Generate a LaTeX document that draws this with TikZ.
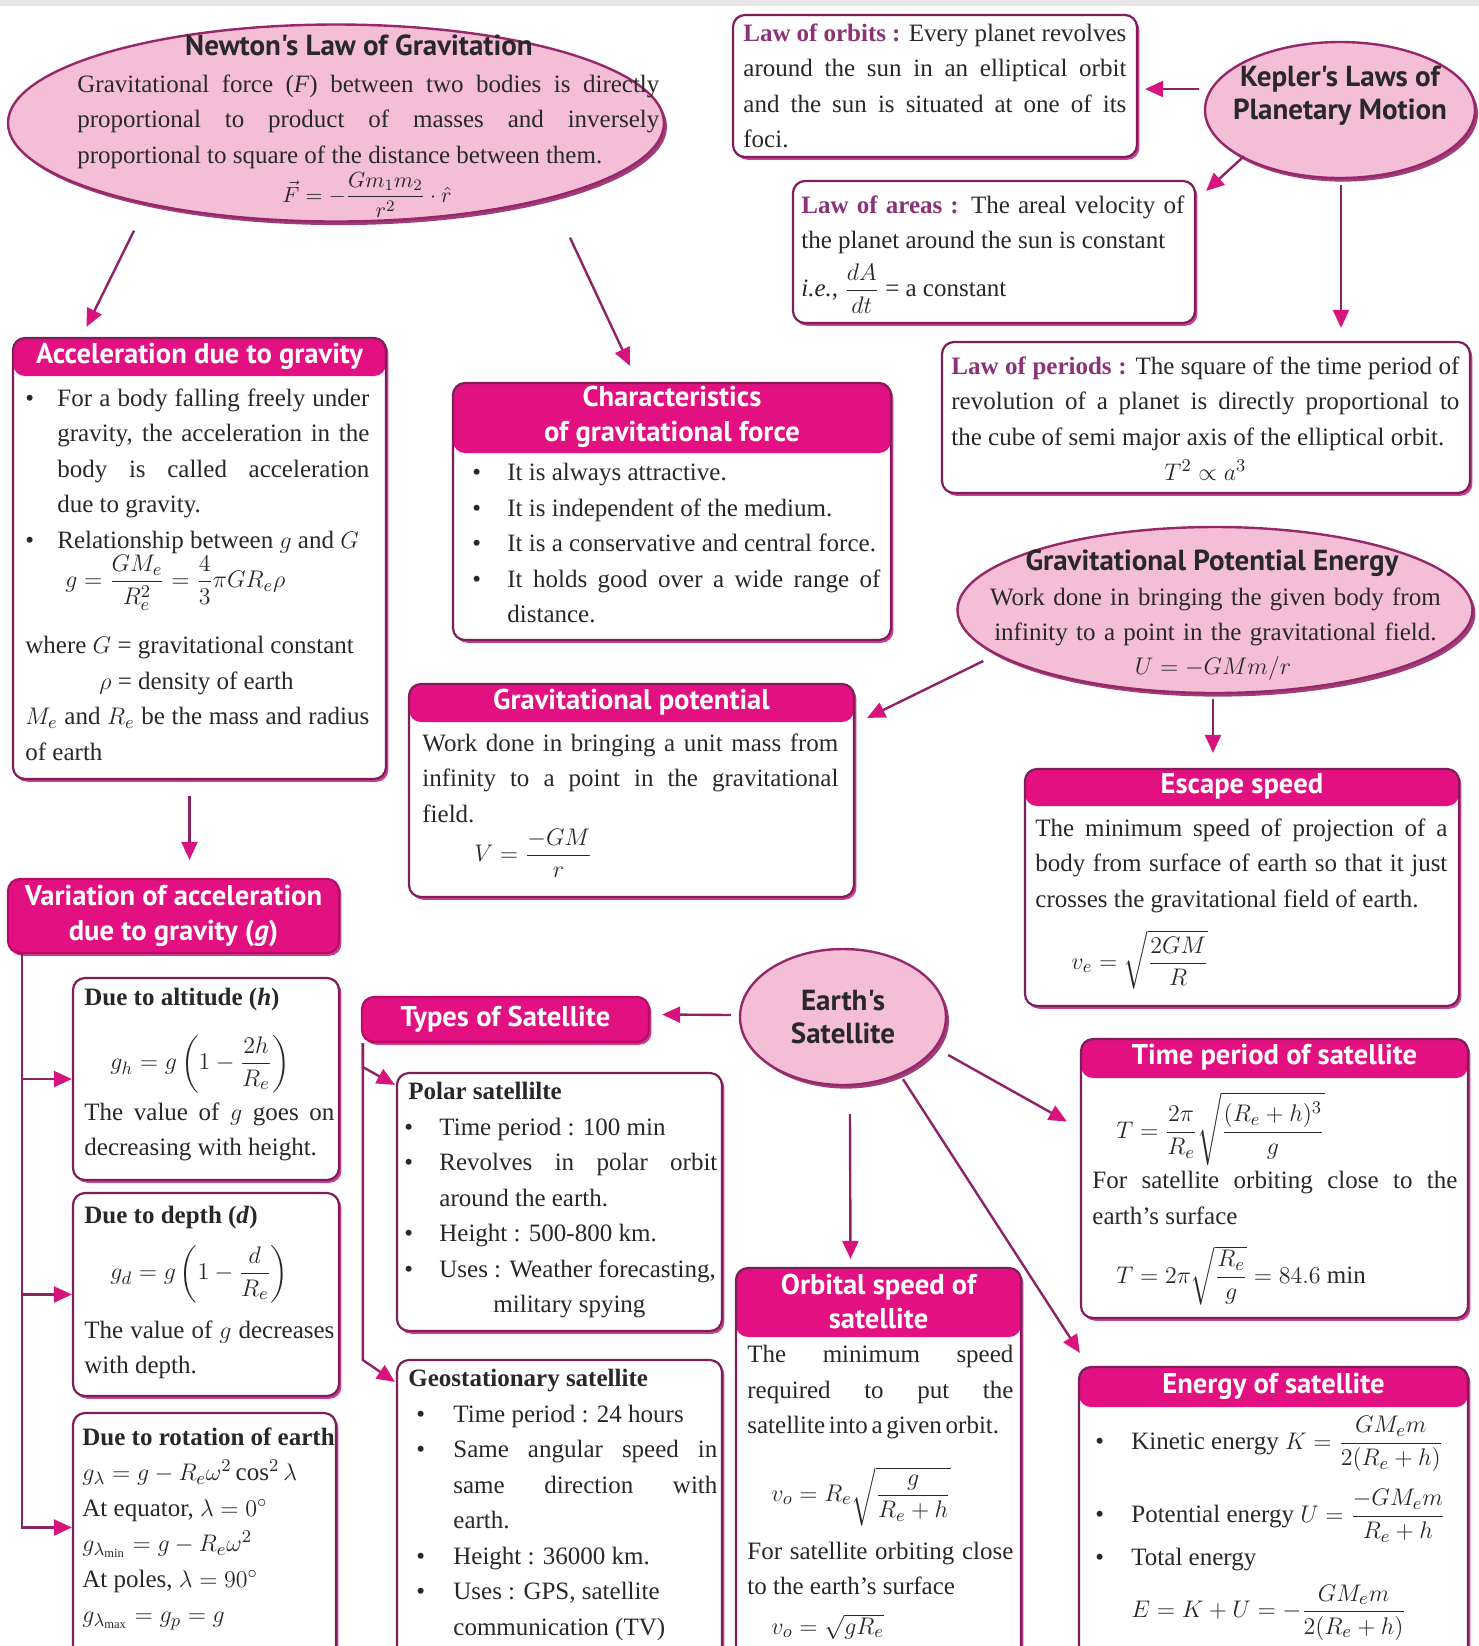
\documentclass[tikz,border=0pt]{standalone}
\usepackage{amsmath}
\usepackage{fontspec}
\setmainfont{Liberation Serif}
\newfontfamily\headsans{PT Sans}
\usetikzlibrary{arrows.meta, positioning, calc, fit, shapes.geometric, shadows}

\definecolor{headfill}{RGB}{226,16,128}
\definecolor{ovalfill}{RGB}{244,190,215}
\definecolor{ovalline}{RGB}{150,40,105}
\definecolor{cardline}{RGB}{125,30,90}
\definecolor{cardshade}{RGB}{200,40,130}
\definecolor{linkclr}{RGB}{140,35,100}
\definecolor{tipclr}{RGB}{215,20,125}
\definecolor{lawclr}{RGB}{140,50,120}
\definecolor{inkclr}{RGB}{40,40,40}
\definecolor{topband}{RGB}{230,230,230}

\setlength{\parindent}{0pt}
\newlength{\bindent}
\newcommand{\bstart}{\hangindent=\bindent\hangafter=1\makebox[\bindent][l]{\textbullet}}
\newcommand{\bpoint}{\par\bstart}
\hyphenpenalty=10000
\tolerance=9000
\emergencystretch=3em

\tikzset{
  card/.style={draw=cardline, line width=1.1pt, rounded corners=6pt, fill=white, inner sep=0pt,
    drop shadow={shadow xshift=1.2pt, shadow yshift=-1.4pt, fill=cardshade, opacity=0.9}},
  headed/.style={path picture={\fill[headfill] (path picture bounding box.north west)
    rectangle ([yshift=-#1]path picture bounding box.north east);}},
  tag/.style={card, fill=headfill, draw=headfill!80!black},
  oval/.style={ellipse, draw=ovalline, line width=1.2pt, fill=ovalfill, inner sep=0pt,
    drop shadow={shadow xshift=1.5pt, shadow yshift=-1.8pt, fill=ovalline, opacity=0.9}},
  body/.style={anchor=north west, inner sep=0pt, text width=#1, align=justify, text=inkclr,
    font=\fontsize{12.5}{17.75}\selectfont},
  formula/.style={inner sep=0pt, text=inkclr, font=\fontsize{12.5}{17.75}\selectfont},
  headtext/.style={inner sep=0pt, align=center, text=white,
    font=\fontsize{14.3}{17.3}\selectfont\headsans\bfseries},
  ovaltitle/.style={inner sep=0pt, align=center, text=inkclr,
    font=\fontsize{14.5}{16.5}\selectfont\headsans\bfseries},
  flow/.style={draw=linkclr, line width=1.2pt, -{Triangle[length=9pt, width=8pt, color=tipclr]}},
}

\begin{document}
\begin{tikzpicture}[x=0.5pt, y=-0.5pt]
  \useasboundingbox (0,0) rectangle (1479,1646);
  \fill[topband] (0,0) rectangle (1479,6);

  % Newton
  \node[oval, minimum width=328pt, minimum height=98.5pt] (newton) at (336,123) {};
  \node[ovaltitle] (newtontitle) at (359,45) {Newton's Law of Gravitation};
  \node[body=291pt] (newtontext) at (77,74) {Gravitational force (\textit{F}) between two bodies is directly proportional to product of masses and inversely proportional to square of the distance between them.};
  \node[formula, font=\fontsize{11}{14}\selectfont] (newtonlaw) at (367,195) {$\vec{F}=-\dfrac{Gm_1m_2}{r^2}\cdot\hat{r}$};

  % Kepler
  \node[oval, minimum width=135pt, minimum height=68pt] (kepler) at (1340,110) {};
  \node[ovaltitle] (keplertitle) at ([yshift=7pt]kepler.center) {Kepler's Laws of\\Planetary Motion};

  \node[card, fit={(733,15) (1137,157)}] (orbits) {};
  \node[body=191.5pt] (orbitstext) at (743,23) {{\color{lawclr}\textbf{Law of orbits :}} Every planet revolves\linebreak around the sun in an elliptical orbit\linebreak and the sun is situated at one of its\linebreak foci.};

  \node[card, fit={(793,181) (1195,323)}] (areas) {};
  \node[body=191.5pt] (areastext) at (801,195) {{\color{lawclr}\textbf{Law of areas :}} The areal velocity of\linebreak the planet around the sun is constant\par\vspace{4pt}
    \textit{i.e.}, $\dfrac{dA}{dt}$ = a constant};

  \node[card, fit={(942,342) (1470,493)}] (periods) {};
  \node[body=254pt] (periodstext) at (951,356) {{\color{lawclr}\textbf{Law of periods :}} The square of the time period of\linebreak revolution of a planet is directly proportional to\linebreak the cube of semi major axis of the elliptical orbit.\par
    {\centering $T^2\propto a^3$\par}};

  % Acceleration due to gravity
  \node[card, headed=19pt, fit={(13,338) (386,779)}] (accel) {};
  \node[headtext] (acceltitle) at ([yshift=-9.5pt]accel.north) {Acceleration due to gravity};
  \node[body=172pt] (acceltext) at (25,388) {\setlength{\bindent}{16pt}%
    \bstart For a body falling freely under\linebreak gravity, the acceleration in the\linebreak body is called acceleration\linebreak due to gravity.
    \bpoint Relationship between $g$ and $G$\par
    \hspace*{20pt}$g=\dfrac{GM_e}{R_e^2}=\dfrac{4}{3}\pi GR_e\rho$\par\vspace{12pt}
    where $G$ = gravitational constant\par
    \hspace*{37pt}$\rho$ = density of earth\par
    $M_e$ and $R_e$ be the mass and radius of earth\par};

  % Characteristics
  \node[card, headed=35pt, fit={(453,383) (891,640)}] (chars) {};
  \node[headtext] (charstitle) at ([yshift=-17.5pt]chars.north) {Characteristics\\of gravitational force};
  \node[body=204pt] (charstext) at (472,463) {\setlength{\bindent}{17.5pt}%
    \bstart It is always attractive.
    \bpoint It is independent of the medium.
    \bpoint It is a conservative and central force.
    \bpoint It holds good over a wide range of distance.\par};

  % Potential energy
  \node[oval, minimum width=257.5pt, minimum height=83pt] (gpe) at (1215,610) {};
  \node[ovaltitle] (gpetitle) at (1212,563) {Gravitational Potential Energy};
  \node[body=228pt, align=center] (gpetext) at (987,587) {Work done in bringing the given body from infinity to a point in the gravitational field.};
  \node[formula] (gpelaw) at (1213,668) {$U=-GMm/r$};

  \node[card, headed=19pt, fit={(409,684) (854,897)}] (gravpot) {};
  \node[headtext] (gravpottitle) at ([yshift=-9.5pt]gravpot.north) {Gravitational potential};
  \node[body=208pt] (gravpottext) at (422,733) {Work done in bringing a unit mass from infinity to a point in the gravitational\linebreak field.\par\vspace{2pt}
    \hspace*{26pt}$V=\dfrac{-GM}{r}$};

  \node[card, headed=18.5pt, fit={(1025,769) (1459,1006)}] (escape) {};
  \node[headtext] (escapetitle) at ([yshift=-9.25pt]escape.north) {Escape speed};
  \node[body=206pt] (escapetext) at (1035,818) {The minimum speed of projection of a body from surface of earth so that it just crosses the gravitational field of earth.\par\vspace{8pt}
    \hspace*{18pt}$v_e=\sqrt{\dfrac{2GM}{R}}$};

  % Variation of g
  \node[tag, fit={(8,879) (339,953)}] (variation) {};
  \node[headtext] (variationtitle) at (variation.center) {Variation of acceleration\\due to gravity (\textit{g})};

  \node[card, fit={(73,978) (339,1180)}] (altitude) {};
  \node[body=125pt] (altitudetext) at (84,988) {\textbf{Due to altitude (\textit{h})}\par\vspace{11pt}
    \hspace*{13pt}$g_h=g\left(1-\dfrac{2h}{R_e}\right)$\par\vspace{4pt}
    The value of $g$ goes on decreasing with height.};

  \node[card, fit={(73,1193) (339,1396)}] (depth) {};
  \node[body=125pt] (depthtext) at (84,1206) {\textbf{Due to depth (\textit{d})}\par\vspace{7pt}
    \hspace*{13pt}$g_d=g\left(1-\dfrac{d}{R_e}\right)$\par\vspace{8pt}
    The value of $g$ decreases with depth.};

  \node[card, fit={(73,1413) (336,1662)}] (rotation) {};
  \node[body=128pt] (rotationtext) at (82,1427) {\textbf{Due to rotation of earth}\par
    $g_\lambda=g-R_e\omega^2\cos^2\lambda$\par
    At equator, $\lambda=0^\circ$\par
    $g_{\lambda_{\min}}=g-R_e\omega^2$\par
    At poles, $\lambda=90^\circ$\par
    $g_{\lambda_{\max}}=g_p=g$};

  % Satellites
  \node[oval, minimum width=103pt, minimum height=68pt] (earth) at (843,1017) {};
  \node[ovaltitle] (earthtitle) at (earth.center) {Earth's\\Satellite};

  \node[tag, fit={(362,997) (649,1042)}] (types) {};
  \node[headtext] (typestitle) at (types.center) {Types of Satellite};

  \node[card, fit={(397,1073) (722,1331)}] (polar) {};
  \node[body=156.5pt] (polartext) at (404,1082) {\setlength{\bindent}{17.5pt}%
    \hspace*{2pt}\textbf{Polar satellilte}
    \bpoint Time period : 100 min
    \bpoint Revolves in polar orbit around the earth.
    \bpoint Height : 500-800 km.
    \bpoint Uses : Weather forecasting,\newline\hspace*{27pt}military spying\par};

  \node[card, fit={(397,1360) (722,1662)}] (geo) {};
  \node[body=150.5pt] (geotext) at (416,1369) {\setlength{\bindent}{18.5pt}%
    \hspace*{-4pt}\textbf{Geostationary satellite}
    \bpoint Time period : 24 hours
    \bpoint Same angular speed in\linebreak same direction with\linebreak earth.
    \bpoint Height : 36000 km.
    \bpoint Uses : GPS, satellite\newline communication (TV)\par};

  \node[card, headed=34.5pt, fit={(736,1268) (1021,1662)}] (orbital) {};
  \node[headtext] (orbitaltitle) at ([yshift=-17.25pt]orbital.north) {Orbital speed of\\satellite};
  \node[body=133pt] (orbitaltext) at (747,1345) {The minimum speed\linebreak required to put the\linebreak {\spaceskip=0.15em plus 0.1em minus 0.05em satellite into a given orbit.}\par\vspace{13pt}
    \hspace*{12pt}$v_o=R_e\sqrt{\dfrac{g}{R_e+h}}$\par\vspace{7pt}
    For satellite orbiting close to the earth's surface\par\vspace{2pt}
    \hspace*{12pt}$v_o=\sqrt{gR_e}$};

  \node[card, headed=19.5pt, fit={(1081,1039) (1468,1318)}] (timep) {};
  \node[headtext] (timeptitle) at ([yshift=-9.75pt]timep.north) {Time period of satellite};
  \node[body=182.5pt] (timeptext) at (1092,1092) {\hspace*{12pt}$T=\dfrac{2\pi}{R_e}\sqrt{\dfrac{(R_e+h)^3}{g}}$\par\vspace{2pt}
    For satellite orbiting close to the earth's surface\par\vspace{10pt}
    \hspace*{12pt}$T=2\pi\sqrt{\dfrac{R_e}{g}}=84.6$ min};

  \node[card, headed=20pt, fit={(1079,1367) (1468,1662)}] (energy) {};
  \node[headtext] (energytitle) at ([yshift=-10pt]energy.north) {Energy of satellite};
  \node[body=181pt] (energytext) at (1095,1416) {\setlength{\bindent}{18pt}%
    \bstart Kinetic energy $K=\dfrac{GM_em}{2(R_e+h)}$\par\vspace{8pt}
    \bstart Potential energy $U=\dfrac{-GM_em}{R_e+h}$\par\vspace{2pt}
    \bstart Total energy\par\vspace{6pt}
    \hspace*{18pt}$E=K+U=-\dfrac{GM_em}{2(R_e+h)}$};

  % Links
  \draw[flow] ($(newton.south)+(-202,8)$) -- ($(accel.north)+(-113,-10)$);
  \draw[flow] ($(newton.south)+(234,15)$) -- ($(chars.north)+(-42,-16)$);
  \draw[flow] ($(kepler.west)+(-5,-21)$) -- ($(orbits.east)+(7,3)$);
  \draw[flow] ($(kepler.south)+(-96,-23)$) -- ($(areas.north east)+(10,11)$);
  \draw[flow] ($(kepler.south)+(1,6)$) -- ($(periods.north)+(135,-13)$);
  \draw[flow] ($(gpe.west)+(27,51)$) -- ($(gravpot.north east)+(12,35)$);
  \draw[flow] ($(gpe.south)+(-2,5)$) -- ($(escape.north)+(-29,-15)$);
  \draw[flow] ($(accel.south)+(-10,16)$) -- ($(variation.north)+(16,-18)$);

  \coordinate (vbus) at ($(variation.south west)+(15,0)$);
  \draw[flow] (vbus) |- ([yshift=5pt]rotation.west);
  \draw[flow] (vbus |- altitude.west) -- (altitude.west);
  \draw[flow] (vbus |- depth.west) -- (depth.west);

  \draw[flow] ($(earth.west)+(-8,-2)$) -- ($(types.east)+(12,-5)$);
  \draw[flow] ($(earth.south)+(7,28)$) -- ($(orbital.north)+(-28,-8)$);
  \draw[flow] ($(earth.east)+(1,38)$) -- ($(timep.west)+(-13,-57)$);
  \draw[flow] ($(earth.south)+(60,-7)$) -- ($(energy.north west)+(2,-13)$);

  \coordinate (tbus) at ($(types.south west)+(2,0)$);
  \draw[flow] (tbus) -- ($(tbus)+(0,24)$) -- ($(polar.north west)+(-1,13)$);
  \draw[flow] (tbus) -- ($(tbus)+(0,317)$) -- ($(geo.north west)+(-1,23)$);
\end{tikzpicture}
\end{document}
